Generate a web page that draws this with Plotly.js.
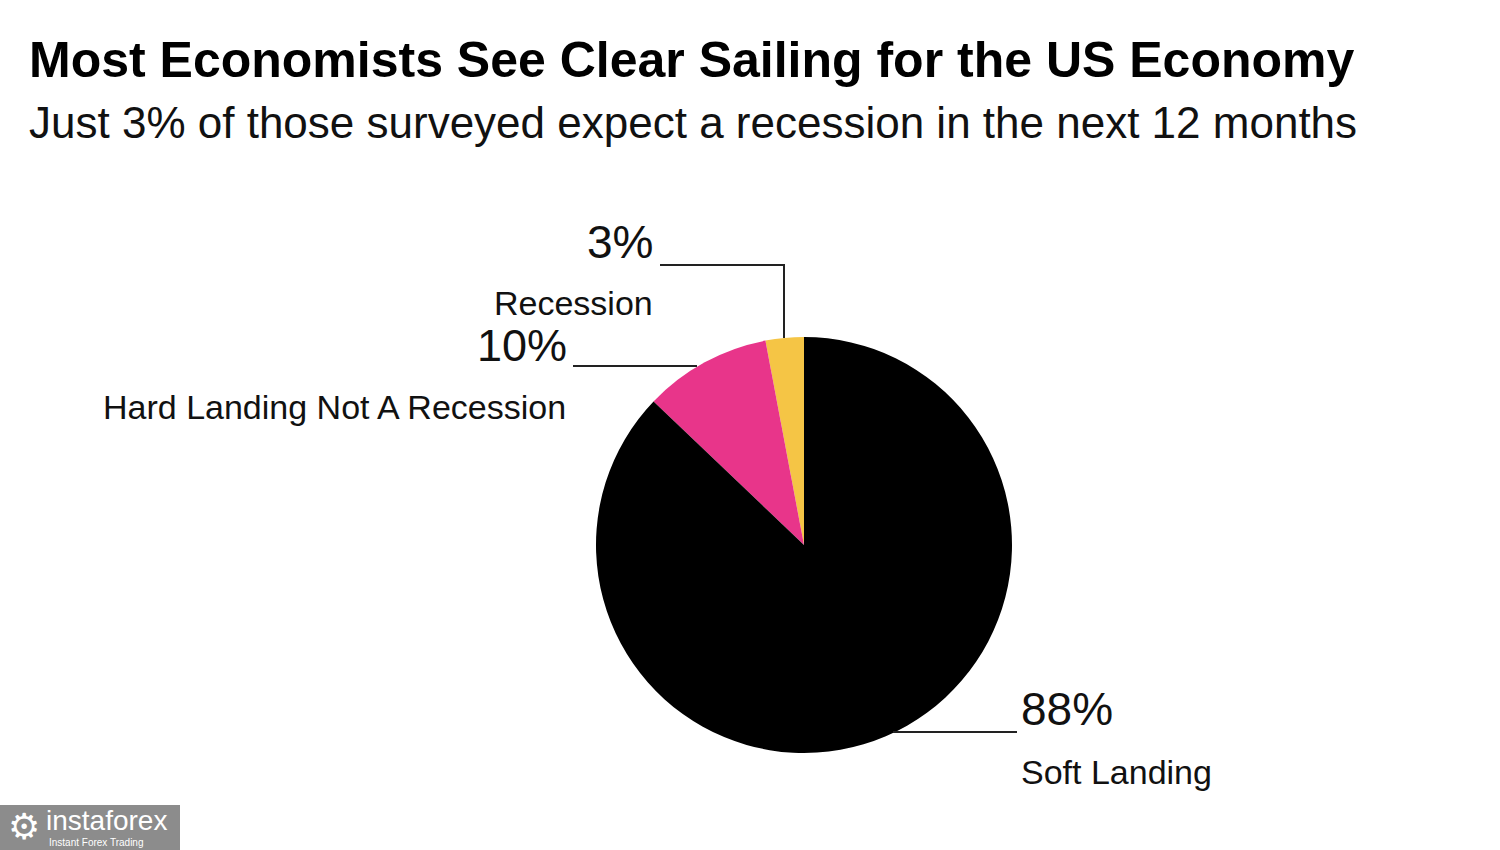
<!DOCTYPE html>
<html><head><meta charset="utf-8">
<script src="https://cdn.plot.ly/plotly-3.0.1.min.js"></script>
<style>html,body{margin:0;padding:0;background:#fff}#chart{width:1500px;height:850px}</style>
</head><body><div id="chart"></div>
<script>
const categories = ["Recession", "Hard Landing Not A Recession", "Soft Landing"];
const shares = [3, 10, 88];
const pctLabels = ["3%", "10%", "88%"];
const sliceColors = ["#F5C545", "#E8358A", "#000000"];

const W = 1500, H = 850;
const px = x => x / W, py = y => 1 - y / H;
const cx = 804, cy = 545, R = 208;
const F = "'Liberation Sans', Arial, Helvetica, sans-serif";

const total = shares.reduce((a, b) => a + b, 0);

const trace = {
  type: "pie",
  labels: categories,
  values: shares,
  sort: false,
  direction: "counterclockwise",
  rotation: -360 * shares[0] / total,
  textinfo: "none",
  hoverinfo: "label+percent",
  marker: {colors: sliceColors, line: {width: 0}},
  domain: {x: [px(cx - R), px(cx + R)], y: [py(cy + R), py(cy - R)]},
  showlegend: false
};

function ann(text, x, y, size, xanchor) {
  return {text: text, xref: "paper", yref: "paper", x: px(x), y: py(y),
    xanchor: xanchor, yanchor: "middle", showarrow: false, borderpad: 0,
    font: {family: F, size: size, color: "#111"}};
}
function line(x0, y0, x1, y1) {
  return {type: "line", xref: "paper", yref: "paper", x0: px(x0), y0: py(y0), x1: px(x1), y1: py(y1),
    line: {color: "#222", width: 2}};
}

const annotations = [
  {text: "<b>Most Economists See Clear Sailing for the US Economy</b>", xref: "paper", yref: "paper",
   x: px(27), y: py(60), xanchor: "left", yanchor: "middle", showarrow: false,
   font: {family: F, size: 50, color: "#000"}},
  {text: "Just 3% of those surveyed expect a recession in the next 12 months", xref: "paper", yref: "paper",
   x: px(27), y: py(122), xanchor: "left", yanchor: "middle", showarrow: false,
   font: {family: F, size: 44, color: "#111"}},
  ann(pctLabels[0], 654, 242, 46, "right"),
  ann(categories[0], 654, 303, 34, "right"),
  ann(pctLabels[1], 568, 345, 45, "right"),
  ann(categories[1], 567, 407, 34, "right"),
  ann(pctLabels[2], 1020, 709, 46, "left"),
  ann(categories[2], 1020, 772, 34, "left"),
  {text: "⚙", xref: "paper", yref: "paper", x: px(24), y: py(826), xanchor: "center", yanchor: "middle",
   showarrow: false, borderpad: 0, font: {family: "DejaVu Sans", size: 36, color: "#fff"}},
  {text: "instaforex", xref: "paper", yref: "paper", x: px(45), y: py(820), xanchor: "left", yanchor: "middle",
   showarrow: false, borderpad: 0, font: {family: F, size: 28, color: "#fff"}},
  {text: "Instant Forex Trading", xref: "paper", yref: "paper", x: px(48), y: py(842), xanchor: "left", yanchor: "middle",
   showarrow: false, borderpad: 0, font: {family: F, size: 10, color: "#fff"}}
];

const shapes = [
  line(660, 265, 785, 265),
  line(784, 265, 784, 338),
  line(573, 366, 697, 366),
  line(893, 732, 1017, 732),
  {type: "rect", xref: "paper", yref: "paper", x0: px(0), x1: px(180), y0: py(850), y1: py(805),
   fillcolor: "#8c8c8c", line: {width: 0}, layer: "below"}
];

const layout = {
  width: W, height: H,
  margin: {l: 0, r: 0, t: 0, b: 0},
  paper_bgcolor: "#fff",
  annotations: annotations,
  shapes: shapes
};
Plotly.newPlot("chart", [trace], layout, {displayModeBar: false, staticPlot: true});
</script></body></html>
